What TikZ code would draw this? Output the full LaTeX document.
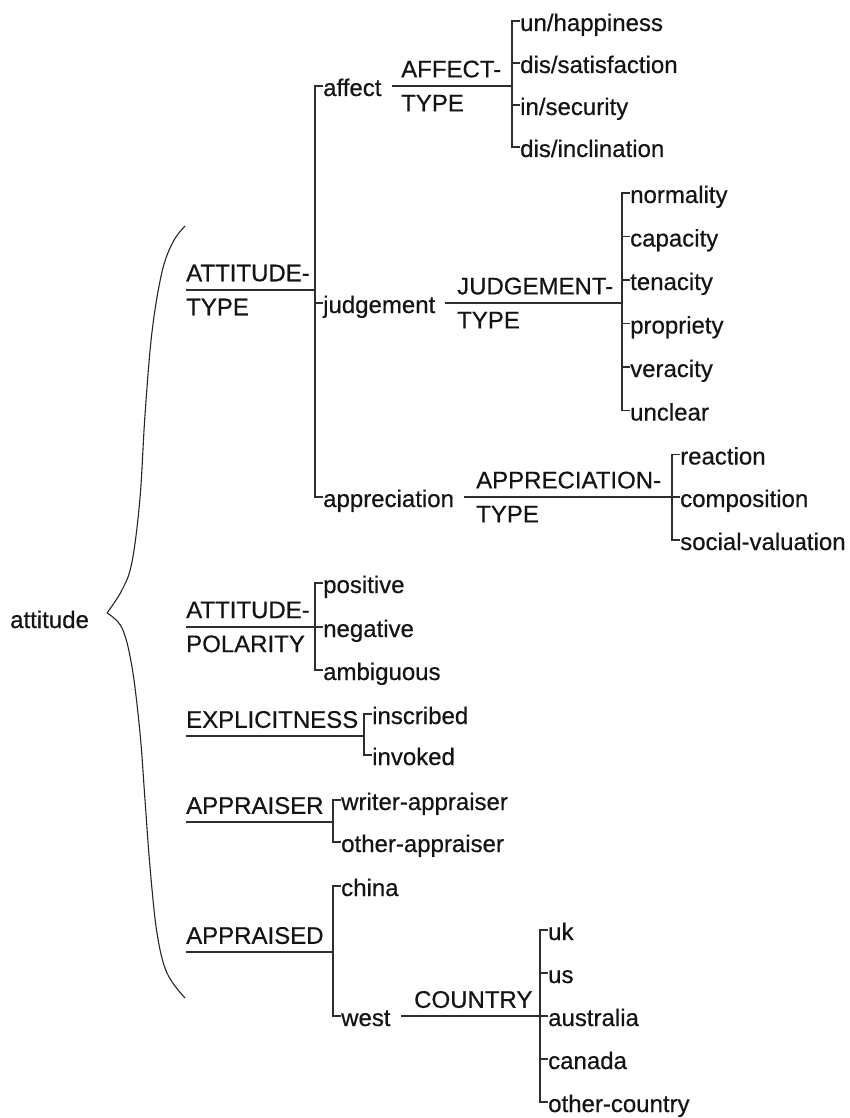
\documentclass[tikz,border=0pt]{standalone}
\usepackage{fontspec}
\setmainfont{Liberation Sans}
\newfontfamily\tfont[RawFeature={embolden=0.5}]{Liberation Sans}
\tikzset{
  base/.style={inner sep=0pt, font=\tfont\fontsize{24}{34}\selectfont, text=black!92},
  leaf/.style={base, anchor=west, text height=22pt, text depth=2pt},
  cattwo/.style={base, anchor=west, align=left},
  catone/.style={base, anchor=south west, text depth=8pt},
  tree/.style={line width=1.8pt, draw=black!82},
  bracestyle/.style={line width=1.1pt, draw=black!85}
}
\begin{document}
\begin{tikzpicture}[x=1pt,y=-1pt]
\useasboundingbox (0,0) rectangle (849,1118);

% root and brace
\node[leaf] (attitude) at (10,618) {attitude};
\draw[bracestyle] plot[smooth, tension=0.6] coordinates {(185,226) (173,242) (162,272) (152,332) (145,415) (140,498) (132,562) (122,590) (107,613)};
\draw[bracestyle] plot[smooth, tension=0.6] coordinates {(107,613) (122,628) (132,667) (140,733) (145,800) (150,867) (157,933) (167,973) (185,998)};

% ATTITUDE-TYPE
\coordinate (vAT) at (315,290);
\node[cattwo] (AT) at (186,290) {ATTITUDE-\\TYPE};
\node[leaf] (affect) at (323,86) {affect};
\node[leaf] (judgement) at (323,303) {judgement};
\node[leaf] (appreciation) at (323,497) {appreciation};
\draw[tree] (AT.west) -- (vAT);
\draw[tree] (affect.west) -- (affect.west -| vAT) |- (appreciation.west);
\draw[tree] (judgement.west) -- (judgement.west -| vAT);

% AFFECT-TYPE
\coordinate (vAF) at (512,86);
\node[cattwo] (AF) at (401,86) {AFFECT-\\TYPE};
\draw[tree] ([xshift=10pt]affect.east) -- (vAF);
\node[leaf] (af1) at (520,21) {un/happiness};
\node[leaf] (af2) at (520,63) {dis/satisfaction};
\node[leaf] (af3) at (520,105) {in/security};
\node[leaf] (af4) at (520,147) {dis/inclination};
\draw[tree] (af1.west) -- (af1.west -| vAF) |- (af4.west);
\draw[tree] (af2.west) -- (af2.west -| vAF);
\draw[tree] (af3.west) -- (af3.west -| vAF);

% JUDGEMENT-TYPE
\coordinate (vJU) at (622,303);
\node[cattwo] (JU) at (457,303) {JUDGEMENT-\\TYPE};
\draw[tree] ([xshift=10pt]judgement.east) -- (vJU);
\node[leaf] (ju1) at (630,193) {normality};
\node[leaf] (ju2) at (630,236.5) {capacity};
\node[leaf] (ju3) at (630,280) {tenacity};
\node[leaf] (ju4) at (630,323.5) {propriety};
\node[leaf] (ju5) at (630,367) {veracity};
\node[leaf] (ju6) at (630,410.5) {unclear};
\draw[tree] (ju1.west) -- (ju1.west -| vJU) |- (ju6.west);
\foreach \n in {ju2,ju3,ju4,ju5} \draw[tree] (\n.west) -- (\n.west -| vJU);

% APPRECIATION-TYPE
\coordinate (vAP) at (672,497);
\node[cattwo] (AP) at (476,497) {APPRECIATION-\\TYPE};
\draw[tree] ([xshift=10pt]appreciation.east) -- (vAP);
\node[leaf] (ap1) at (680,454.5) {reaction};
\node[leaf] (ap2) at (680,497) {composition};
\node[leaf] (ap3) at (680,540) {social-valuation};
\draw[tree] (ap1.west) -- (ap1.west -| vAP) |- (ap3.west);
\draw[tree] (ap2.west) -- (ap2.west -| vAP);

% ATTITUDE-POLARITY
\coordinate (vPO) at (315,627);
\node[cattwo] (PO) at (186,627) {ATTITUDE-\\POLARITY};
\draw[tree] (PO.west) -- (vPO);
\node[leaf] (po1) at (323,583) {positive};
\node[leaf] (po2) at (323,627) {negative};
\node[leaf] (po3) at (323,670) {ambiguous};
\draw[tree] (po1.west) -- (po1.west -| vPO) |- (po3.west);
\draw[tree] (po2.west) -- (po2.west -| vPO);

% EXPLICITNESS
\coordinate (vEX) at (364,736);
\node[catone] (EX) at (186,736) {EXPLICITNESS};
\draw[tree] (EX.south west) -- (vEX);
\node[leaf] (ex1) at (372,714) {inscribed};
\node[leaf] (ex2) at (372,755) {invoked};
\draw[tree] (ex1.west) -- (ex1.west -| vEX) |- (ex2.west);

% APPRAISER
\coordinate (vAR) at (333,822);
\node[catone] (AR) at (186,822) {APPRAISER};
\draw[tree] (AR.south west) -- (vAR);
\node[leaf] (ar1) at (341,800) {writer-appraiser};
\node[leaf] (ar2) at (341,842) {other-appraiser};
\draw[tree] (ar1.west) -- (ar1.west -| vAR) |- (ar2.west);

% APPRAISED
\coordinate (vAD) at (333,952);
\node[catone] (AD) at (186,952) {APPRAISED};
\draw[tree] (AD.south west) -- (vAD);
\node[leaf] (ad1) at (341,886) {china};
\node[leaf] (ad2) at (341,1016) {west};
\draw[tree] (ad1.west) -- (ad1.west -| vAD) |- (ad2.west);

% COUNTRY
\coordinate (vCO) at (540,1016);
\node[catone] (CO) at (414,1016) {COUNTRY};
\draw[tree] ([xshift=10pt]ad2.east) -- (vCO);
\node[leaf] (co1) at (548,930) {uk};
\node[leaf] (co2) at (548,973) {us};
\node[leaf] (co3) at (548,1016) {australia};
\node[leaf] (co4) at (548,1059) {canada};
\node[leaf] (co5) at (548,1102) {other-country};
\draw[tree] (co1.west) -- (co1.west -| vCO) |- (co5.west);
\foreach \n in {co2,co3,co4} \draw[tree] (\n.west) -- (\n.west -| vCO);
\end{tikzpicture}
\end{document}
